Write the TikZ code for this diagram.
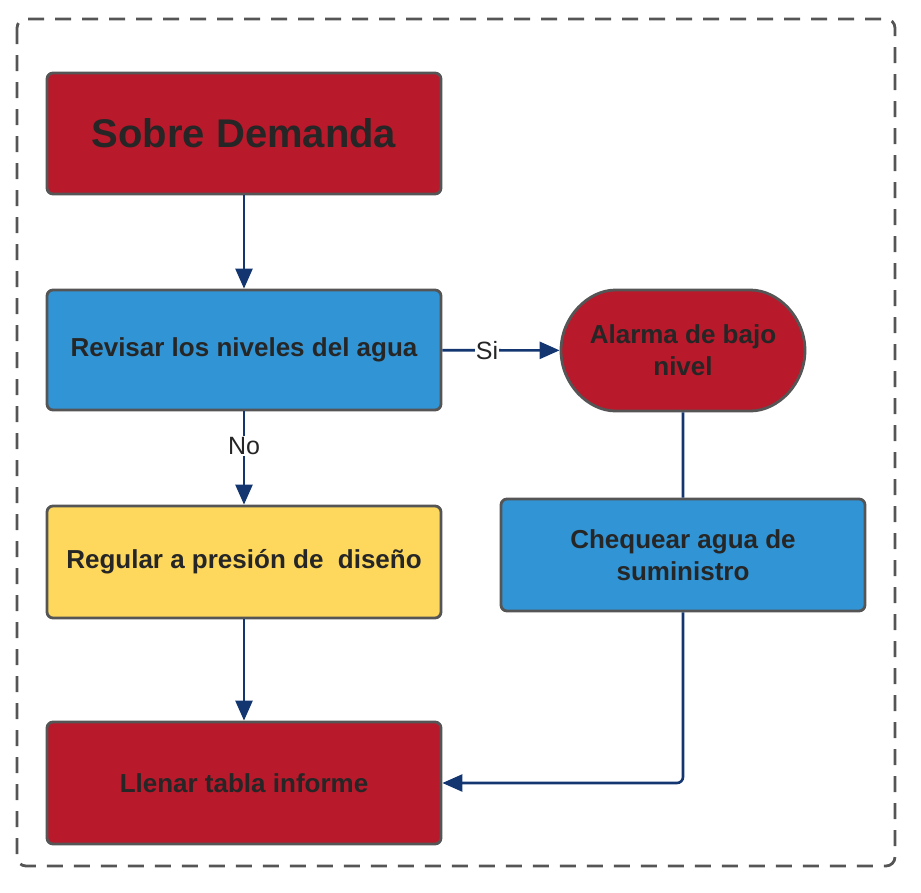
\documentclass[tikz,border=0pt]{standalone}
\usepackage{fontspec}
\setmainfont{Liberation Sans}
\usetikzlibrary{arrows.meta,shapes.misc}
\definecolor{cred}{HTML}{B8192B}
\definecolor{cblue}{HTML}{3194D4}
\definecolor{cyellow}{HTML}{FDD85D}
\definecolor{ctext}{HTML}{262626}
\definecolor{cborder}{HTML}{555555}
\definecolor{carrow}{HTML}{133670}
\begin{document}
\begin{tikzpicture}[x=1pt,y=-1pt,
  box/.style={draw=cborder,line width=2.8pt,rounded corners=6pt,inner sep=0pt,
    text=ctext,font=\bfseries\fontsize{26}{32}\selectfont,align=center},
  conn/.style={draw=carrow,line width=2.6pt,-{Triangle[length=20pt,width=17pt]}},
  plain/.style={draw=carrow,line width=2.6pt},
  lbl/.style={fill=white,inner sep=1pt,text=ctext,font=\fontsize{25}{28}\selectfont}]
\useasboundingbox (0,0) rectangle (921,892);
\draw[cborder,line width=2.8pt,dash pattern=on 16pt off 11pt,rounded corners=9pt] (17,19) rectangle (895,866);
\node[box,fill=cred,minimum width=394pt,minimum height=121pt,font=\bfseries\fontsize{40}{46}\selectfont] (sobre) at (244,133.5) {Sobre Demanda};
\node[box,fill=cblue,minimum width=394pt,minimum height=120pt] (revisar) at (244,350) {Revisar los niveles del agua};
\node[box,fill=cred,rounded rectangle,minimum width=244pt,minimum height=121pt] (alarma) at (683,350.5) {Alarma de bajo\\nivel};
\node[box,fill=cyellow,minimum width=394pt,minimum height=112pt] (regular) at (244,562) {Regular a presión de \ diseño};
\node[box,fill=cblue,minimum width=364pt,minimum height=112pt] (chequear) at (683,555) {Chequear agua de\\suministro};
\node[box,fill=cred,minimum width=394pt,minimum height=122pt] (llenar) at (244,783) {Llenar tabla informe};
\draw[conn] (sobre) -- (revisar);
\draw[conn] (revisar) -- node[lbl,pos=0.38]{Si} (alarma);
\draw[conn] (revisar) -- node[lbl,pos=0.37]{No} (regular);
\draw[plain] (alarma) -- (chequear);
\draw[conn] (regular) -- (llenar);
\draw[conn,rounded corners=6pt] (chequear.south) |- (llenar.east);
\end{tikzpicture}
\end{document}
